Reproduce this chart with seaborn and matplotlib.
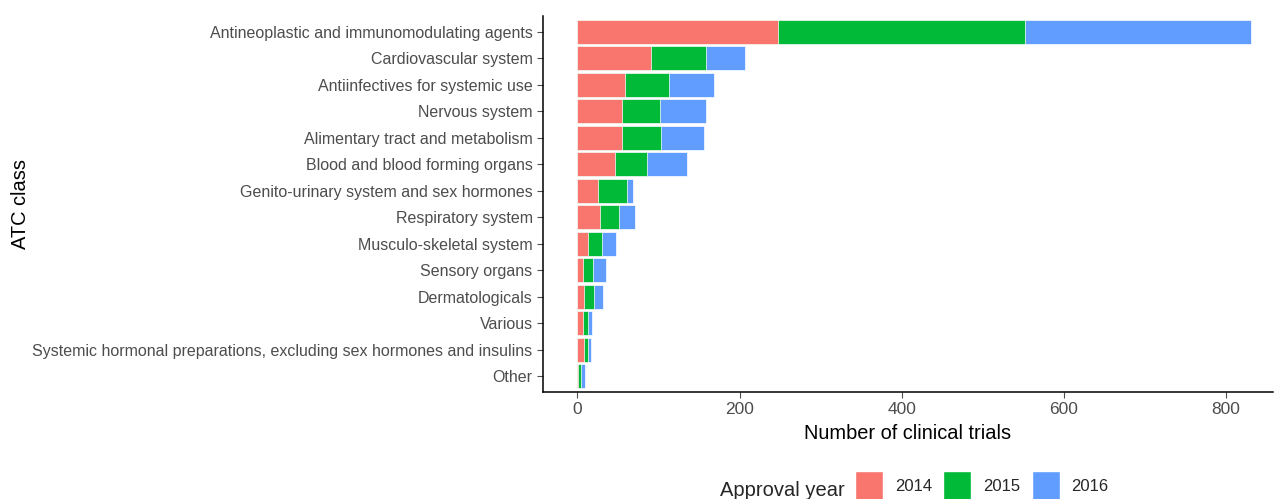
import numpy as np
import pandas as pd
import matplotlib
matplotlib.use("Agg")
import matplotlib.pyplot as plt
from matplotlib.patches import Patch
import seaborn as sns

classes = [
    "Antineoplastic and immunomodulating agents",
    "Cardiovascular system",
    "Antiinfectives for systemic use",
    "Nervous system",
    "Alimentary tract and metabolism",
    "Blood and blood forming organs",
    "Genito-urinary system and sex hormones",
    "Respiratory system",
    "Musculo-skeletal system",
    "Sensory organs",
    "Dermatologicals",
    "Various",
    "Systemic hormonal preparations, excluding sex hormones and insulins",
    "Other",
]
trials_2014 = [248, 91, 59, 55, 55, 46, 25, 28, 13, 7, 8, 7, 8, 1]
trials_2015 = [304, 67, 54, 47, 48, 40, 36, 23, 17, 12, 12, 6, 5, 3]
trials_2016 = [279, 49, 56, 56, 53, 49, 7, 20, 17, 16, 11, 5, 4, 5]
years = ["2014", "2015", "2016"]
colors = ["#F8766D", "#00BA38", "#619CFF"]

df = pd.DataFrame({"cls": classes, "y2014": trials_2014,
                   "y2015": trials_2015, "y2016": trials_2016})
df["c1"] = df["y2014"]
df["c2"] = df["y2014"] + df["y2015"]
df["c3"] = df["c2"] + df["y2016"]

sns.set_style("ticks")
plt.rcParams["font.family"] = ["Liberation Sans", "DejaVu Sans"]

fig = plt.figure(figsize=(12.75, 4.99), dpi=100)
ax = fig.add_axes([543 / 1275, 1 - 392 / 499, 730 / 1275, (392 - 16) / 499])

# stacked bars drawn as cumulative layers, widest first
for col, c in zip(["c3", "c2", "c1"], colors[::-1]):
    sns.barplot(data=df, x=col, y="cls", order=classes, color=c, width=0.9,
                edgecolor="white", linewidth=0.5, saturation=1, ax=ax)

ax.set_xlim(-42.5, 858)
ax.set_ylim(len(classes) - 0.4, -0.6)
ax.set_xticks([0, 200, 400, 600, 800])
ax.set_xlabel("Number of clinical trials", fontsize=14.4, color="black", labelpad=5)
ax.set_ylabel("ATC class", fontsize=14.4, color="black")
ax.yaxis.set_label_coords(-0.703, 0.5)
ax.tick_params(axis="y", labelsize=11.5, colors="#4D4D4D", length=4, width=0.8)
ax.tick_params(axis="x", labelsize=12.5, colors="#4D4D4D", length=4, width=0.8)
for s in ["left", "bottom"]:
    ax.spines[s].set_linewidth(1.1)
    ax.spines[s].set_color("black")
sns.despine(ax=ax)

handles = [Patch(facecolor=c, edgecolor="white") for c in colors]
fig.text(720 / 1275, 3 / 499, "Approval year", fontsize=14.5, ha="left", va="baseline")
fig.legend(handles, years, loc="lower left", bbox_to_anchor=(840 / 1275, -0.036),
           ncol=3, frameon=False, fontsize=12, handlelength=1.68, handleheight=2.5,
           columnspacing=0.7, handletextpad=0.7)

fig.savefig("out.png", dpi=100)
